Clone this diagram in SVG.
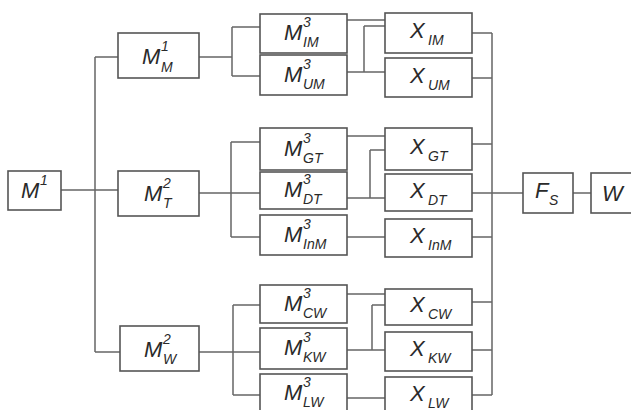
<svg xmlns="http://www.w3.org/2000/svg" width="631" height="410" viewBox="0 0 631 410">
<style>
.box{fill:#fff;stroke:#555;stroke-width:1.6}
.ln{stroke:#666;stroke-width:1.5;fill:none}
text{font-family:"Liberation Sans",Arial,sans-serif;font-style:italic;fill:#2a2a2a}
.m{font-size:22px}
.s{font-size:14px}
</style>
<rect width="631" height="410" fill="#fff"/>
<g id="connectors" class="ln">
<path d="M61,190H118M95,57V352M95,57H118M95,352H120"/>
<path d="M199,57H232M232,27V76M232,27H260M232,76H260"/>
<path d="M199,193H260M231,142V237M231,142H260M231,237H260"/>
<path d="M199,352H260M233,305V395M233,305H260M233,395H260"/>
<path d="M347,20H385M364,26H385M364,26V72M347,72H385"/>
<path d="M347,136H385M370,150H385M370,150V198M347,198H385M347,237H385"/>
<path d="M347,294H385M372,305H385M372,305V350M347,350H385M347,398H385"/>
<path d="M472,33H492M472,78H492M472,144H492M472,193H523M472,237H492M472,302H492M472,350H492M472,395H492M492,33V395"/>
<path d="M573,193H591"/>
</g>
<g id="M1"><rect class="box" x="8" y="171" width="53" height="39"/><text x="21" y="198"><tspan class="m">M</tspan><tspan class="s" x="40" y="185">1</tspan></text></g>
<g id="M1M"><rect class="box" x="118" y="33" width="81" height="45"/><text x="142" y="64"><tspan class="m">M</tspan><tspan class="s" x="161" y="51">1</tspan><tspan class="s" x="161" y="72">M</tspan></text></g>
<g id="M2T"><rect class="box" x="118" y="171" width="81" height="45"/><text x="144" y="201"><tspan class="m">M</tspan><tspan class="s" x="163" y="188">2</tspan><tspan class="s" x="163" y="208">T</tspan></text></g>
<g id="M2W"><rect class="box" x="120" y="326" width="79" height="45"/><text x="144" y="357"><tspan class="m">M</tspan><tspan class="s" x="163" y="344">2</tspan><tspan class="s" x="163" y="364">W</tspan></text></g>
<g id="M3IM"><rect class="box" x="260" y="14" width="87" height="39"/><text x="284" y="40"><tspan class="m">M</tspan><tspan class="s" x="303" y="27">3</tspan><tspan class="s" x="303" y="47">IM</tspan></text></g>
<g id="M3UM"><rect class="box" x="260" y="55" width="87" height="40"/><text x="284" y="82"><tspan class="m">M</tspan><tspan class="s" x="303" y="69">3</tspan><tspan class="s" x="303" y="89">UM</tspan></text></g>
<g id="M3GT"><rect class="box" x="260" y="128" width="87" height="42"/><text x="284" y="156"><tspan class="m">M</tspan><tspan class="s" x="303" y="143">3</tspan><tspan class="s" x="303" y="163">GT</tspan></text></g>
<g id="M3DT"><rect class="box" x="260" y="172" width="87" height="37"/><text x="284" y="197"><tspan class="m">M</tspan><tspan class="s" x="303" y="184">3</tspan><tspan class="s" x="303" y="204">DT</tspan></text></g>
<g id="M3InM"><rect class="box" x="260" y="215" width="87" height="40"/><text x="284" y="242"><tspan class="m">M</tspan><tspan class="s" x="303" y="229">3</tspan><tspan class="s" x="303" y="249">InM</tspan></text></g>
<g id="M3CW"><rect class="box" x="260" y="285" width="87" height="38"/><text x="284" y="311"><tspan class="m">M</tspan><tspan class="s" x="303" y="298">3</tspan><tspan class="s" x="303" y="318">CW</tspan></text></g>
<g id="M3KW"><rect class="box" x="260" y="328" width="87" height="41"/><text x="284" y="355"><tspan class="m">M</tspan><tspan class="s" x="303" y="342">3</tspan><tspan class="s" x="303" y="362">KW</tspan></text></g>
<g id="M3LW"><rect class="box" x="260" y="374" width="87" height="40"/><text x="284" y="400"><tspan class="m">M</tspan><tspan class="s" x="303" y="387">3</tspan><tspan class="s" x="303" y="407">LW</tspan></text></g>
<g id="XIM"><rect class="box" x="385" y="13" width="87" height="40"/><text x="410" y="38"><tspan class="m">X</tspan><tspan class="s" x="428" y="45">IM</tspan></text></g>
<g id="XUM"><rect class="box" x="385" y="58" width="87" height="39"/><text x="410" y="83"><tspan class="m">X</tspan><tspan class="s" x="428" y="90">UM</tspan></text></g>
<g id="XGT"><rect class="box" x="385" y="128" width="87" height="42"/><text x="410" y="154"><tspan class="m">X</tspan><tspan class="s" x="428" y="161">GT</tspan></text></g>
<g id="XDT"><rect class="box" x="385" y="174" width="87" height="37"/><text x="410" y="198"><tspan class="m">X</tspan><tspan class="s" x="428" y="205">DT</tspan></text></g>
<g id="XInM"><rect class="box" x="385" y="219" width="87" height="38"/><text x="410" y="243"><tspan class="m">X</tspan><tspan class="s" x="428" y="250">InM</tspan></text></g>
<g id="XCW"><rect class="box" x="385" y="289" width="87" height="36"/><text x="410" y="312"><tspan class="m">X</tspan><tspan class="s" x="428" y="319">CW</tspan></text></g>
<g id="XKW"><rect class="box" x="385" y="332" width="87" height="39"/><text x="410" y="356"><tspan class="m">X</tspan><tspan class="s" x="428" y="363">KW</tspan></text></g>
<g id="XLW"><rect class="box" x="385" y="377" width="87" height="40"/><text x="410" y="401"><tspan class="m">X</tspan><tspan class="s" x="428" y="408">LW</tspan></text></g>
<g id="FS"><rect class="box" x="523" y="173" width="50" height="40"/><text x="535" y="198"><tspan class="m">F</tspan><tspan class="s" x="549" y="205">S</tspan></text></g>
<g id="W"><rect class="box" x="591" y="173" width="50" height="40"/><text x="602" y="201"><tspan class="m">W</tspan></text></g>
</svg>
